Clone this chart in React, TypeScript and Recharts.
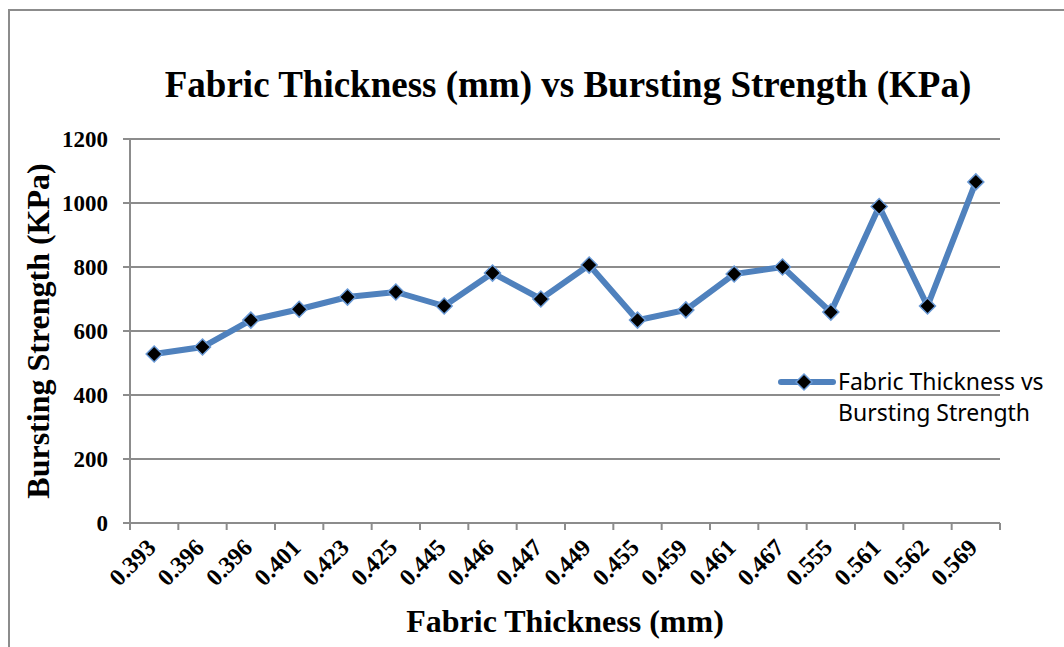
import React from "react";
import { LineChart, Line, XAxis, YAxis, CartesianGrid, Legend, Label, Customized } from "recharts";

const thickness = ["0.393", "0.396", "0.396", "0.401", "0.423", "0.425", "0.445", "0.446", "0.447", "0.449", "0.455", "0.459", "0.461", "0.467", "0.555", "0.561", "0.562", "0.569"];
const strength = [528, 550, 634, 668, 706, 722, 678, 781, 700, 806, 634, 666, 778, 800, 659, 989, 678, 1066];
const yTicks = [0, 200, 400, 600, 800, 1000, 1200];
const title = "Fabric Thickness (mm) vs Bursting Strength (KPa)";
const xTitle = "Fabric Thickness (mm)";
const yTitle = "Bursting Strength (KPa)";
const seriesName = ["Fabric Thickness vs", "Bursting Strength"];

const data = thickness.map((t, i) => ({ thickness: t, strength: strength[i] }));

const SERIF = "'Liberation Serif', 'Times New Roman', serif";
const GRID = "#8c8c8c";
const BLUE = "#4f81bd";

const CHART_W = 1064;
const CHART_H = 647;
const MARGIN = { top: 139, right: 64, bottom: 0, left: 0 };
const Y_AXIS_W = 130;
const PLOT_W = CHART_W - MARGIN.left - MARGIN.right - Y_AXIS_W;
const HALF_BAND = PLOT_W / thickness.length / 2;

const Diamond = (props: any) => {
  const { cx, cy, index } = props;
  if (cx == null || cy == null) return <g key={`d-${index}`} />;
  const r = 8;
  return (
    <polygon
      key={`d-${index}`}
      points={`${cx},${cy - r} ${cx + r},${cy} ${cx},${cy + r} ${cx - r},${cy}`}
      fill="#000"
      stroke="#6a9ad6"
      strokeWidth={1.5}
    />
  );
};

const XTick = (props: any) => {
  const { x, y, payload, index } = props;
  const last = index === thickness.length - 1;
  const tx = x + 3;
  const ty = y + 26;
  return (
    <g>
      <line x1={x - HALF_BAND} y1={y} x2={x - HALF_BAND} y2={y + 7} stroke={GRID} strokeWidth={2} />
      {last && <line x1={x + HALF_BAND} y1={y} x2={x + HALF_BAND} y2={y + 7} stroke={GRID} strokeWidth={2} />}
      <text
        x={tx}
        y={ty}
        transform={`rotate(-45, ${tx}, ${ty})`}
        textAnchor="end"
        fontFamily={SERIF}
        fontWeight="bold"
        fontSize={24}
        fill="#000"
      >
        {payload.value}
      </text>
    </g>
  );
};

const YLabel = (props: any) => {
  const vb = props.viewBox || { x: 0, y: 0, width: 0, height: 0 };
  const cx = vb.x + 38;
  const cy = vb.y + vb.height / 2;
  return (
    <text
      x={cx}
      y={cy}
      transform={`rotate(-90, ${cx}, ${cy})`}
      textAnchor="middle"
      dominantBaseline="central"
      fontFamily={SERIF}
      fontWeight="bold"
      fontSize={32}
      fill="#000"
    >
      {yTitle}
    </text>
  );
};

const XLabel = (props: any) => {
  const vb = props.viewBox || { x: 0, y: 0, width: 0, height: 0 };
  return (
    <text
      x={vb.x + vb.width / 2}
      y={vb.y + 109}
      textAnchor="middle"
      fontFamily={SERIF}
      fontWeight="bold"
      fontSize={32}
      fill="#000"
    >
      {xTitle}
    </text>
  );
};

const Title = () => (
  <text x={568} y={97} textAnchor="middle" fontFamily={SERIF} fontWeight="bold" fontSize={37} fill="#000">
    {title}
  </text>
);

const LegendContent = () => (
  <div style={{ display: "flex", alignItems: "flex-start" }}>
    <svg width={60} height={32} style={{ display: "block" }}>
      <line x1={3} y1={16} x2={55} y2={16} stroke={BLUE} strokeWidth={6} strokeLinecap="round" />
      <polygon points="26,8 34,16 26,24 18,16" fill="#000" stroke="#6a9ad6" strokeWidth={1.5} />
    </svg>
    <div
      style={{
        fontFamily: "'Noto Sans', sans-serif",
        fontSize: 23,
        lineHeight: "31px",
        color: "#000",
        whiteSpace: "nowrap",
      }}
    >
      {seriesName[0]}
      <br />
      {seriesName[1]}
    </div>
  </div>
);

export default function App() {
  return (
    <div style={{ position: "absolute", left: 0, top: 0, width: CHART_W, height: CHART_H, overflow: "hidden", background: "#fff" }}>
      <div
        style={{
          position: "absolute",
          left: 8,
          top: 9,
          width: 1100,
          height: 700,
          border: `2px solid ${GRID}`,
          boxSizing: "border-box",
          pointerEvents: "none",
        }}
      />
      <div style={{ position: "absolute", left: 0, top: 0 }}>
        <LineChart width={CHART_W} height={CHART_H} data={data} margin={MARGIN}>
          <CartesianGrid horizontal vertical={false} stroke={GRID} strokeWidth={2} />
          <XAxis
            dataKey="thickness"
            padding={{ left: HALF_BAND, right: HALF_BAND }}
            height={124}
            interval={0}
            tickLine={false}
            tickSize={0}
            tickMargin={0}
            axisLine={{ stroke: GRID, strokeWidth: 2 }}
            tick={<XTick />}
          >
            <Label content={<XLabel />} />
          </XAxis>
          <YAxis
            width={Y_AXIS_W}
            domain={[0, 1200]}
            ticks={yTicks}
            interval={0}
            tickSize={7}
            tickMargin={15}
            tickLine={{ stroke: GRID, strokeWidth: 2 }}
            axisLine={{ stroke: GRID, strokeWidth: 2 }}
            tick={{ fill: "#000", fontFamily: SERIF, fontWeight: "bold", fontSize: 23 }}
          >
            <Label content={<YLabel />} />
          </YAxis>
          <Legend
            layout="vertical"
            align="center"
            verticalAlign="middle"
            content={<LegendContent />}
            wrapperStyle={{ left: 778, top: 366, width: 290, height: 64 }}
          />
          <Line
            type="linear"
            dataKey="strength"
            name="Fabric Thickness vs Bursting Strength"
            stroke={BLUE}
            strokeWidth={6}
            dot={<Diamond />}
            activeDot={false}
            isAnimationActive={false}
          />
          <Customized component={Title} />
        </LineChart>
      </div>
    </div>
  );
}
